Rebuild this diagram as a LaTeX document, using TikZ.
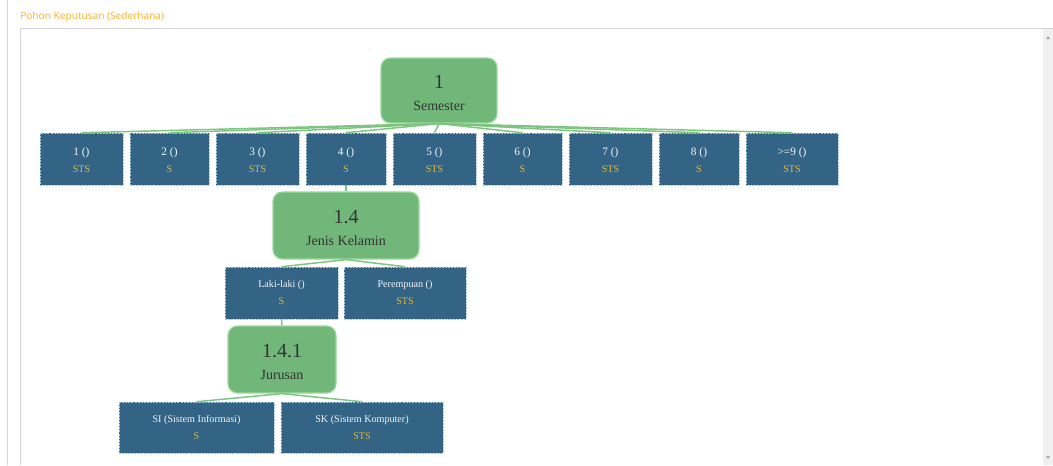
\documentclass[tikz,border=0pt]{standalone}
\usepackage{fontspec}
\setmainfont{Liberation Serif}
\newfontfamily\titlefont{Open Sans}

\definecolor{nodegreen}{HTML}{71B77A}
\definecolor{nodeedge}{HTML}{9CDA9C}
\definecolor{leafblue}{HTML}{336485}
\definecolor{leafedge}{HTML}{A6C8E0}
\definecolor{resgold}{HTML}{EAB82A}
\definecolor{linkgreen}{HTML}{7DC47F}
\definecolor{titleorange}{HTML}{F8B133}
\definecolor{panelline}{HTML}{D4D4D4}
\definecolor{scrollbg}{HTML}{F0F0F0}
\definecolor{scrollarrow}{HTML}{A8A8A8}

% result line of a leaf, and the large number of a decision node
\newcommand\res[1]{\textcolor{resgold}{#1}}
\newcommand\bignum[1]{{\fontsize{15}{15}\selectfont\rule{0pt}{13.2pt}#1}}
\newcommand\semval[1]{{\fontsize{8.5}{9}\selectfont\rule{0pt}{7.5pt}#1}}

\begin{document}
\begin{tikzpicture}[x=0.75pt,y=-0.75pt,
  decision/.style={draw=nodeedge, line width=0.9pt, fill=nodegreen,
    rounded corners=7pt, align=center, text=black!80, inner sep=0pt,
    font=\fontsize{10.5}{16.6}\selectfont},
  leaf/.style={draw=leafedge, dash pattern=on 1.5pt off 0.8pt, line width=0.4pt,
    fill=leafblue, align=center, inner sep=0pt, text=white!94!leafblue,
    font=\fontsize{7.6}{12.75}\selectfont},
  link/.style={draw=linkgreen, line width=1.1pt},
  rowone/.style={leaf, minimum height=39pt}
]
\useasboundingbox (0,0) rectangle (1053,465);
\fill[white] (0,0) rectangle (1053,465);

% page frame, panel and scrollbar
\draw[panelline, line width=0.75pt] (7,0) -- (7,465);
\node[anchor=west, inner sep=0pt, text=titleorange,
  font=\titlefont\fontsize{7.6}{8}\selectfont] (title) at (20,17) {Pohon Keputusan (Sederhana)};
\draw[panelline, line width=0.75pt] (1053,28) -- (20,28) -- (20,465);
\fill[scrollbg] (1043,29) rectangle (1053,465);
\fill[scrollarrow] (1046,39) -- (1050,39) -- (1048,36) -- cycle;
\fill[scrollarrow] (1046,456) -- (1050,456) -- (1048,459) -- cycle;

% root
\node[decision, minimum width=87pt, minimum height=48.75pt] (root) at (439,90.5)
  {\bignum{1}\\Semester};

% semester values
\node[rowone, minimum width=62.25pt] (s1) at (81.5,159) {\semval{1 ()}\\\res{STS}};
\node[rowone, minimum width=59.25pt] (s2) at (169.5,159) {\semval{2 ()}\\\res{S}};
\node[rowone, minimum width=62.25pt] (s3) at (257.5,159) {\semval{3 ()}\\\res{STS}};
\node[rowone, minimum width=60pt]    (s4) at (346,159) {\semval{4 ()}\\\res{S}};
\node[rowone, minimum width=62.25pt] (s5) at (434.5,159) {\semval{5 ()}\\\res{STS}};
\node[rowone, minimum width=59.25pt] (s6) at (522.5,159) {\semval{6 ()}\\\res{S}};
\node[rowone, minimum width=62.25pt] (s7) at (610.5,159) {\semval{7 ()}\\\res{STS}};
\node[rowone, minimum width=60pt]    (s8) at (699,159) {\semval{8 ()}\\\res{S}};
\node[rowone, minimum width=69pt]    (s9) at (792,159) {\semval{>=9 ()}\\\res{STS}};

% gender split under semester 4
\node[decision, minimum width=109.5pt, minimum height=50.25pt] (jk) at (346,225.5)
  {\bignum{1.4}\\Jenis Kelamin};
\node[leaf, minimum width=84.75pt, minimum height=39pt] (laki) at (281.5,293)
  {Laki-laki ()\\\res{S}};
\node[leaf, minimum width=91.5pt, minimum height=39pt] (perempuan) at (405,293)
  {Perempuan ()\\\res{STS}};

% major split under Laki-laki
\node[decision, minimum width=81pt, minimum height=50.25pt] (jur) at (282,359.5)
  {\bignum{1.4.1}\\Jurusan};
\node[leaf, minimum width=116.25pt, minimum height=38.25pt] (si) at (196.5,427.5)
  {SI (Sistem Informasi)\\\res{S}};
\node[leaf, minimum width=121.5pt, minimum height=38.25pt] (sk) at (362,427.5)
  {SK (Sistem Komputer)\\\res{STS}};

% connectors
\foreach \c in {s1,s2,s3,s4,s5,s6,s7,s8,s9}
  \draw[link] (root.south) -- (\c.north);
\draw[link] (s4.south) -- (jk.north);
\draw[link] (jk.south) -- (laki.north);
\draw[link] (jk.south) -- (perempuan.north);
\draw[link] (laki.south) -- (jur.north);
\draw[link] (jur.south) -- (si.north);
\draw[link] (jur.south) -- (sk.north);
\end{tikzpicture}
\end{document}
